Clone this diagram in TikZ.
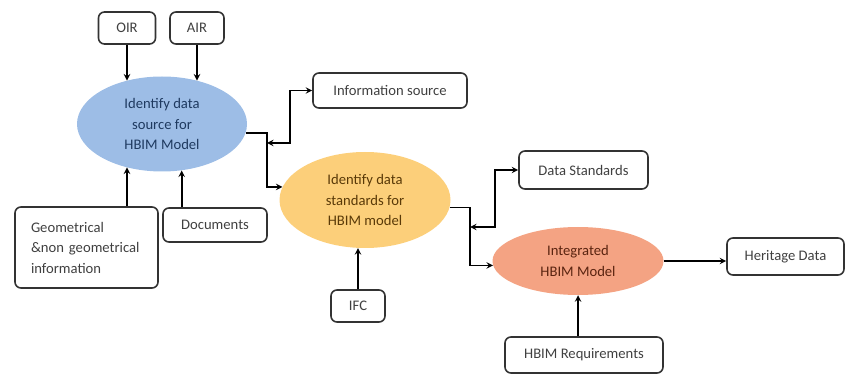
\documentclass[tikz,border=0pt]{standalone}
\usepackage{fontspec}
\setmainfont{Carlito}
\usetikzlibrary{shapes.geometric, arrows}

% one unit = one pixel of the layout grid
\newlength{\pxl}
\setlength{\pxl}{0.03cm}

\definecolor{srcblue}{HTML}{9DBDE6}
\definecolor{stdyellow}{HTML}{FCCF7A}
\definecolor{intsalmon}{HTML}{F4A383}
\definecolor{navytext}{HTML}{1F3A60}
\definecolor{browntext}{HTML}{5A3A08}
\definecolor{redtext}{HTML}{5A2410}

\tikzstyle{arrow} = [line width=1.7\pxl,->,>=stealth]
\tikzstyle{twoway} = [line width=1.7\pxl,<->,>=stealth]
\tikzstyle{box} = [rectangle, rounded corners=6\pxl, draw=black!80, line width=1.6\pxl, text=black!75, align=center]
\tikzstyle{phase} = [ellipse, inner sep=0pt, align=center]

\begin{document}
\begin{tikzpicture}[x=\pxl, y=-\pxl, font=\fontsize{12.5}{17.5}\selectfont]
\useasboundingbox (0,0) rectangle (846,374);

% Process stages
\node (src) [phase, fill=srcblue, text=navytext, minimum width=170\pxl, minimum height=95\pxl] at (162,124) {Identify data\\source for\\HBIM Model};
\node (std) [phase, fill=stdyellow, text=browntext, minimum width=171\pxl, minimum height=96\pxl] at (365,200) {Identify data\\standards for\\HBIM model};
\node (int) [phase, fill=intsalmon, text=redtext, minimum width=171\pxl, minimum height=68\pxl] at (578,261) {Integrated\\HBIM Model};

% Inputs
\node (oir) [box, minimum width=57\pxl, minimum height=32\pxl] at (127,28) {OIR};
\node (air) [box, minimum width=54\pxl, minimum height=32\pxl] at (197,28) {AIR};
\node (geo) [box, minimum width=143\pxl, minimum height=81\pxl, text width=111\pxl, align=left] at (86.5,247.5) {Geometrical\\\&non geometrical\\information};
\node (docs) [box, minimum width=104\pxl, minimum height=34\pxl] at (215,225) {Documents};
\node (ifc) [box, minimum width=54\pxl, minimum height=32\pxl] at (358,306) {IFC};
\node (req) [box, minimum width=158\pxl, minimum height=36\pxl] at (584,355) {HBIM Requirements};

% Outputs
\node (info) [box, minimum width=154\pxl, minimum height=35\pxl] at (390,90.5) {Information source};
\node (stds) [box, minimum width=129\pxl, minimum height=38\pxl] at (583.5,170) {Data Standards};
\node (her) [box, minimum width=117\pxl, minimum height=37\pxl] at (785.5,256.5) {Heritage Data};

% Bends of the connectors
\coordinate (jA) at (267,133);
\coordinate (jB) at (290,143);
\coordinate (jC) at (470,208);
\coordinate (jD) at (495,227);

% Connections
\draw [arrow] (oir.south) -- (oir.south |- src.129);
\draw [arrow] (air.south) -- (air.south |- src.51);
\draw [arrow] (geo.north -| oir.south) -- (oir.south |- src.231);
\draw [arrow] (docs.north -| src.293) -- (src.293);
\draw [arrow] (src.354) -| (jA) |- (std.171);
\draw [twoway] (info.west) -| (jB) -- (jB -| jA);
\draw [arrow] (ifc.north) -- (ifc.north |- std.262);
\draw [arrow] (std.355) -| (jC) |- (int.183);
\draw [twoway] (stds.west) -| (jD) -- (jD -| jC);
\draw [arrow] (req.north -| int.south) -- (int.south);
\draw [arrow] (int.east) -- (int.east -| her.west);

\end{tikzpicture}
\end{document}
